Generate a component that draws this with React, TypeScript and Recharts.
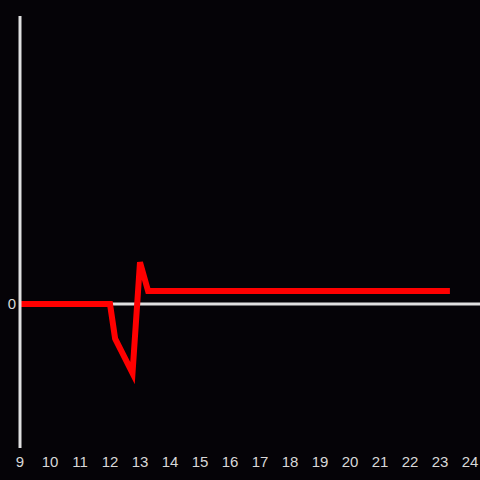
import { Line, LineChart, ReferenceLine, XAxis, YAxis } from 'recharts';

const hours = [9, 12.0, 12.17, 12.75, 13.0, 13.27, 23.33];
const values = [0, 0, -0.24, -0.48, 0.29, 0.09, 0.09];
const hourTicks = [9, 10, 11, 12, 13, 14, 15, 16, 17, 18, 19, 20, 21, 22, 23, 24];
const valueTicks = [0];

const data = hours.map((h, i) => ({ hour: h, value: values[i] }));

const tickStyle = { fill: '#d8d8d8', fontSize: 15, fontFamily: 'Liberation Sans, Arial, sans-serif' };

export default function App() {
  return (
    <div style={{ position: 'absolute', left: 0, top: 0, width: 480, height: 480, background: '#050307' }}>
      <LineChart width={480} height={480} data={data} margin={{ top: 16, right: 0, bottom: 0, left: 0 }}>
        <XAxis
          dataKey="hour"
          type="number"
          domain={[9, 24.333]}
          ticks={hourTicks}
          interval={0}
          height={32}
          axisLine={false}
          tickLine={false}
          tick={tickStyle}
        />
        <YAxis
          type="number"
          domain={[-1, 2]}
          ticks={valueTicks}
          width={20}
          axisLine={{ stroke: '#e0e0e0', strokeWidth: 3 }}
          tickLine={false}
          tickSize={2}
          tickMargin={2}
          tick={tickStyle}
        />
        <ReferenceLine y={0} stroke="#e0e0e0" strokeWidth={3} />
        <Line
          dataKey="value"
          type="linear"
          stroke="#ff0000"
          strokeWidth={6}
          dot={false}
          isAnimationActive={false}
        />
      </LineChart>
    </div>
  );
}
